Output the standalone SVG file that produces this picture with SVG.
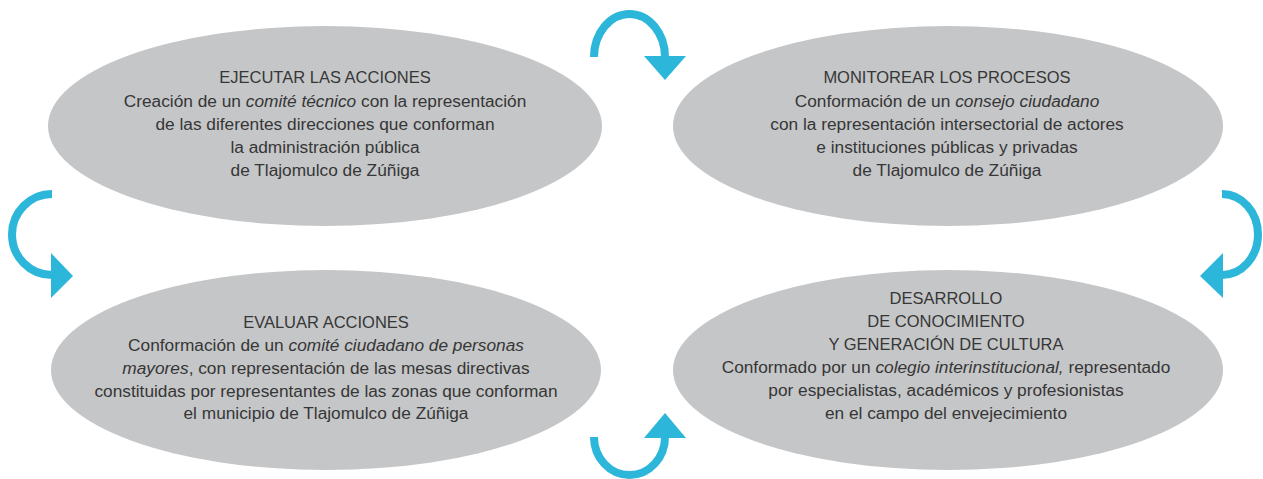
<svg xmlns="http://www.w3.org/2000/svg" width="1263" height="479" viewBox="0 0 1263 479">
<style>
.bg{fill:#ffffff}
.node ellipse{fill:#c5c6c8}
.node text{font-family:"Liberation Sans",Arial,sans-serif;font-size:17.3px;fill:#363636;text-anchor:middle}
.node text.t{font-size:16.5px}
.arc{fill:none;stroke:#2bb6da;stroke-width:8}
.head{fill:#2bb6da}
</style>
<rect class="bg" x="0" y="0" width="1263" height="479"/>
<g id="n-ejecutar" class="node">
<ellipse cx="325" cy="126" rx="277" ry="100"/>
<text class="t" x="325" y="83">EJECUTAR LAS ACCIONES</text>
<text x="325" y="107">Creación de un <tspan font-style="italic">comité técnico</tspan> con la representación</text>
<text x="325" y="130">de las diferentes direcciones que conforman</text>
<text x="325" y="153">la administración pública</text>
<text x="325" y="176">de Tlajomulco de Zúñiga</text>
</g>
<g id="n-monitorear" class="node">
<ellipse cx="948" cy="126" rx="275" ry="100"/>
<text class="t" x="947" y="83">MONITOREAR LOS PROCESOS</text>
<text x="947" y="107">Conformación de un <tspan font-style="italic">consejo ciudadano</tspan></text>
<text x="947" y="130">con la representación intersectorial de actores</text>
<text x="947" y="153">e instituciones públicas y privadas</text>
<text x="947" y="176">de Tlajomulco de Zúñiga</text>
</g>
<g id="n-evaluar" class="node">
<ellipse cx="326" cy="370" rx="275" ry="100"/>
<text class="t" x="326" y="328">EVALUAR ACCIONES</text>
<text x="326" y="351">Conformación de un <tspan font-style="italic">comité ciudadano de personas</tspan></text>
<text x="326" y="374"><tspan font-style="italic">mayores</tspan>, con representación de las mesas directivas</text>
<text x="326" y="397">constituidas por representantes de las zonas que conforman</text>
<text x="326" y="419">el municipio de Tlajomulco de Zúñiga</text>
</g>
<g id="n-desarrollo" class="node">
<ellipse cx="948" cy="370" rx="275" ry="100"/>
<text class="t" x="946" y="304">DESARROLLO</text>
<text class="t" x="946" y="327">DE CONOCIMIENTO</text>
<text class="t" x="946" y="350">Y GENERACIÓN DE CULTURA</text>
<text x="946" y="373">Conformado por un <tspan font-style="italic">colegio interinstitucional,</tspan> representado</text>
<text x="946" y="396">por especialistas, académicos y profesionistas</text>
<text x="946" y="419">en el campo del envejecimiento</text>
</g>
<g id="connectors">
<path class="arc" d="M594,57 A35.5,43 0 0 1 665,57"/>
<polygon class="head" points="644,56 686,56 665,80"/>
<path class="arc" d="M1222,194 A36,40.5 0 0 1 1222,275"/>
<polygon class="head" points="1223,253 1223,298 1200,276"/>
<path class="arc" d="M594,437 A35.5,38 0 0 0 665,437"/>
<polygon class="head" points="644,438 686,438 665,413"/>
<path class="arc" d="M52,194 A40,40.5 0 0 0 52,275"/>
<polygon class="head" points="51,253 51,298 73,276"/>
</g>
</svg>
